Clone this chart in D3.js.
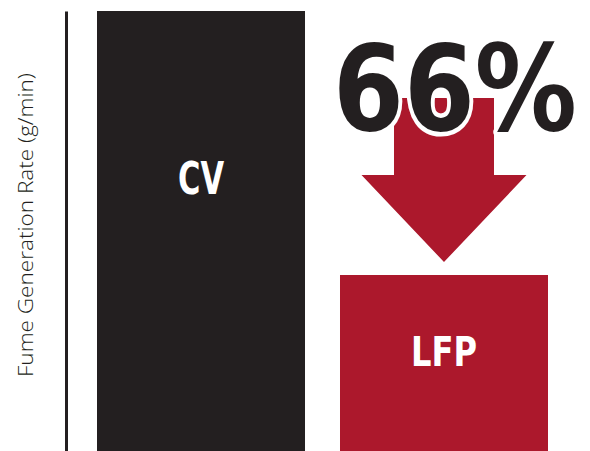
<!DOCTYPE html>
<html>
<head>
<meta charset="utf-8">
<script src="https://cdn.jsdelivr.net/npm/d3@7"></script>
<style>
  html, body { margin: 0; padding: 0; background: #fff; }
  svg { display: block; }
</style>
</head>
<body>
<svg id="chart" width="590" height="451"></svg>
<script>
// ---- data ----
const categories = ["CV", "LFP"];
const values = [100, 40];            // relative fume generation rate
const reductionLabel = "66%";
const yAxisLabel = "Fume Generation Rate (g/min)";
const barColors = ["#231f20", "#ac182c"];

// ---- layout ----
const svg = d3.select("#chart");
const dark = "#231f20", red = "#ac182c";

const x = d3.scaleBand().domain(categories).range([97, 548])
  .paddingInner(0.144).paddingOuter(0);
const y = d3.scaleLinear().domain([0, 100]).range([451, 11]);

// axis (plain vertical line)
const axis = svg.append("g").attr("transform", "translate(66,0)")
  .call(d3.axisLeft(y).tickValues([]).tickSizeOuter(0));
axis.select(".domain").attr("stroke", dark).attr("stroke-width", 3);

// y label
svg.append("text")
  .attr("transform", "translate(33,225) rotate(-90)")
  .attr("text-anchor", "middle")
  .attr("font-family", "'Open Sans', sans-serif")
  .attr("font-weight", 300)
  .attr("font-size", 20)
  .attr("fill", dark)
  .attr("textLength", 304)
  .attr("lengthAdjust", "spacingAndGlyphs")
  .text(yAxisLabel);

// bars
svg.selectAll("rect.bar").data(categories).join("rect")
  .attr("class", "bar")
  .attr("x", d => x(d))
  .attr("y", (d, i) => y(values[i]))
  .attr("width", x.bandwidth())
  .attr("height", (d, i) => y(0) - y(values[i]))
  .attr("fill", (d, i) => barColors[i]);

// bar labels
const labelCfg = [
  { size: 44, len: 46, base: 194 },
  { size: 41, len: 66, base: 366 }
];
svg.selectAll("text.blabel").data(categories).join("text")
  .attr("class", "blabel")
  .attr("x", d => x(d) + x.bandwidth() / 2)
  .attr("y", (d, i) => labelCfg[i].base)
  .attr("text-anchor", "middle")
  .attr("font-family", "'DejaVu Sans', sans-serif")
  .attr("font-stretch", "condensed")
  .attr("font-weight", "bold")
  .attr("font-size", (d, i) => labelCfg[i].size)
  .attr("textLength", (d, i) => labelCfg[i].len)
  .attr("lengthAdjust", "spacingAndGlyphs")
  .attr("fill", "#fff")
  .text(d => d);

// arrow above the LFP bar
const cx = x("LFP") + x.bandwidth() / 2;
const tipY = y(values[1]) - 13;
const headTop = 175, shaftTop = 98, headHalf = 82.5, shaftHalf = 50;
const arrowPts = [
  [cx - shaftHalf, shaftTop], [cx + shaftHalf, shaftTop],
  [cx + shaftHalf, headTop], [cx + headHalf, headTop],
  [cx, tipY],
  [cx - headHalf, headTop], [cx - shaftHalf, headTop]
];
svg.append("path")
  .attr("d", d3.line()(arrowPts) + "Z")
  .attr("fill", red);

// big percentage
svg.append("text")
  .attr("x", 333)
  .attr("y", 130)
  .attr("font-family", "'DejaVu Sans', sans-serif")
  .attr("font-weight", "bold")
  .attr("font-size", 119)
  .attr("textLength", 244)
  .attr("lengthAdjust", "spacingAndGlyphs")
  .attr("fill", dark)
  .attr("stroke", "#fff")
  .attr("stroke-width", 9)
  .attr("stroke-linejoin", "round")
  .attr("paint-order", "stroke")
  .text(reductionLabel);
</script>
</body>
</html>
